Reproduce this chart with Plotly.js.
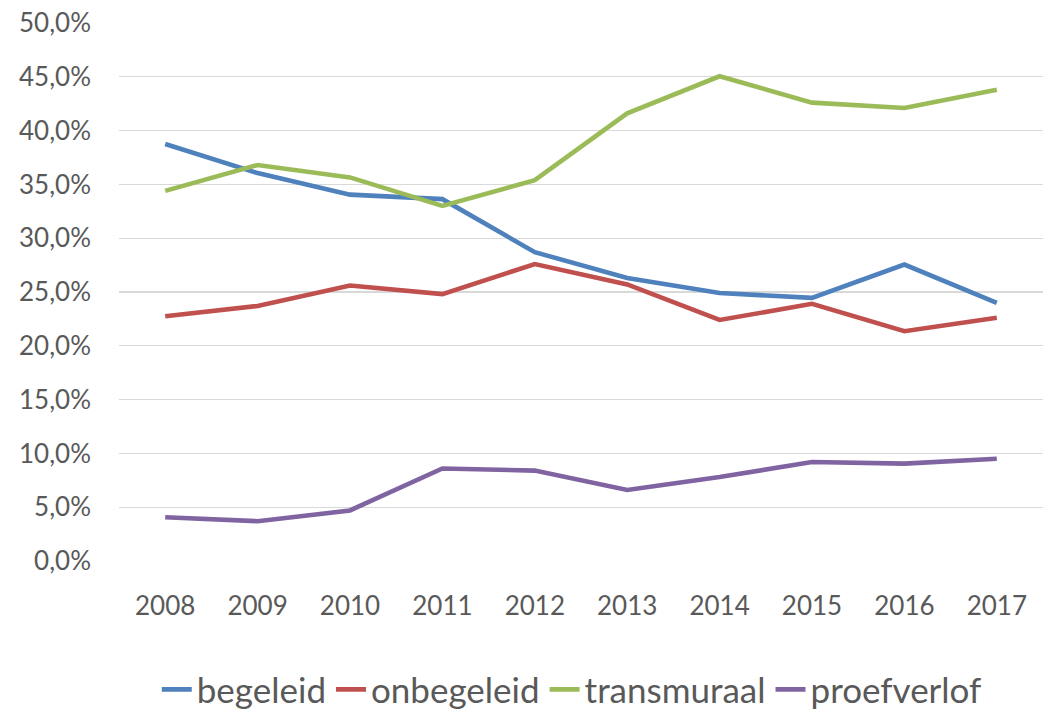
<!DOCTYPE html>
<html>
<head>
<meta charset="utf-8">
<script src="https://cdn.plot.ly/plotly-3.0.1.min.js"></script>
<style>html,body{margin:0;padding:0;background:#fff;}#chart{width:1061px;height:713px;}</style>
</head>
<body>
<div id="chart"></div>
<script>
const years = ["2008","2009","2010","2011","2012","2013","2014","2015","2016","2017"];
const begeleid    = [0.3876,0.3605,0.3405,0.3363,0.2870,0.2630,0.2490,0.2445,0.2755,0.2400];
const onbegeleid  = [0.2275,0.2370,0.2560,0.2480,0.2760,0.2570,0.2240,0.2390,0.2135,0.2260];
const transmuraal = [0.3440,0.3680,0.3565,0.3300,0.3540,0.4160,0.4505,0.4260,0.4210,0.4380];
const proefverlof = [0.0406,0.0370,0.0470,0.0860,0.0840,0.0660,0.0780,0.0920,0.0905,0.0950];

const seriesNames = ["begeleid","onbegeleid","transmuraal","proefverlof"];
const seriesData = [begeleid, onbegeleid, transmuraal, proefverlof];
const colors = ["#4f81bd","#c0504d","#9bbb59","#8064a2"];

const FONT = "Lato, 'Open Sans', sans-serif";
const traces = seriesNames.map((n,i)=>({
  type:"scatter", mode:"lines", name:n, x:years, y:seriesData[i],
  line:{color:colors[i], width:4.6}
}));

const layout = {
  width:1061, height:713,
  margin:{l:119, r:18, t:23, b:152, pad:0, autoexpand:false},
  paper_bgcolor:"#fff", plot_bgcolor:"#fff",
  separators:",.",
  font:{family:FONT, color:"#595959", size:26},
  showlegend:true,
  legend:{orientation:"h", x:0.49, xanchor:"center", y:-0.294, yanchor:"bottom",
    font:{family:FONT, size:35, color:"#595959"}, itemwidth:30, tracegroupgap:0},
  xaxis:{type:"category", range:[-0.5,9.5], showgrid:false, zeroline:false, showline:false,
    ticks:"", tickfont:{size:26, color:"#595959"}, ticklabelstandoff:27},
  yaxis:{range:[0,0.5], dtick:0.05, tick0:0, tickformat:".1%", showgrid:true,
    gridcolor:"#d9d9d9", gridwidth:1.3, zeroline:false, showline:false, ticks:"",
    tickfont:{size:26, color:"#595959"}, ticklabelstandoff:27}
};
Plotly.newPlot("chart", traces, layout, {displayModeBar:false, staticPlot:true});
</script>
</body>
</html>
